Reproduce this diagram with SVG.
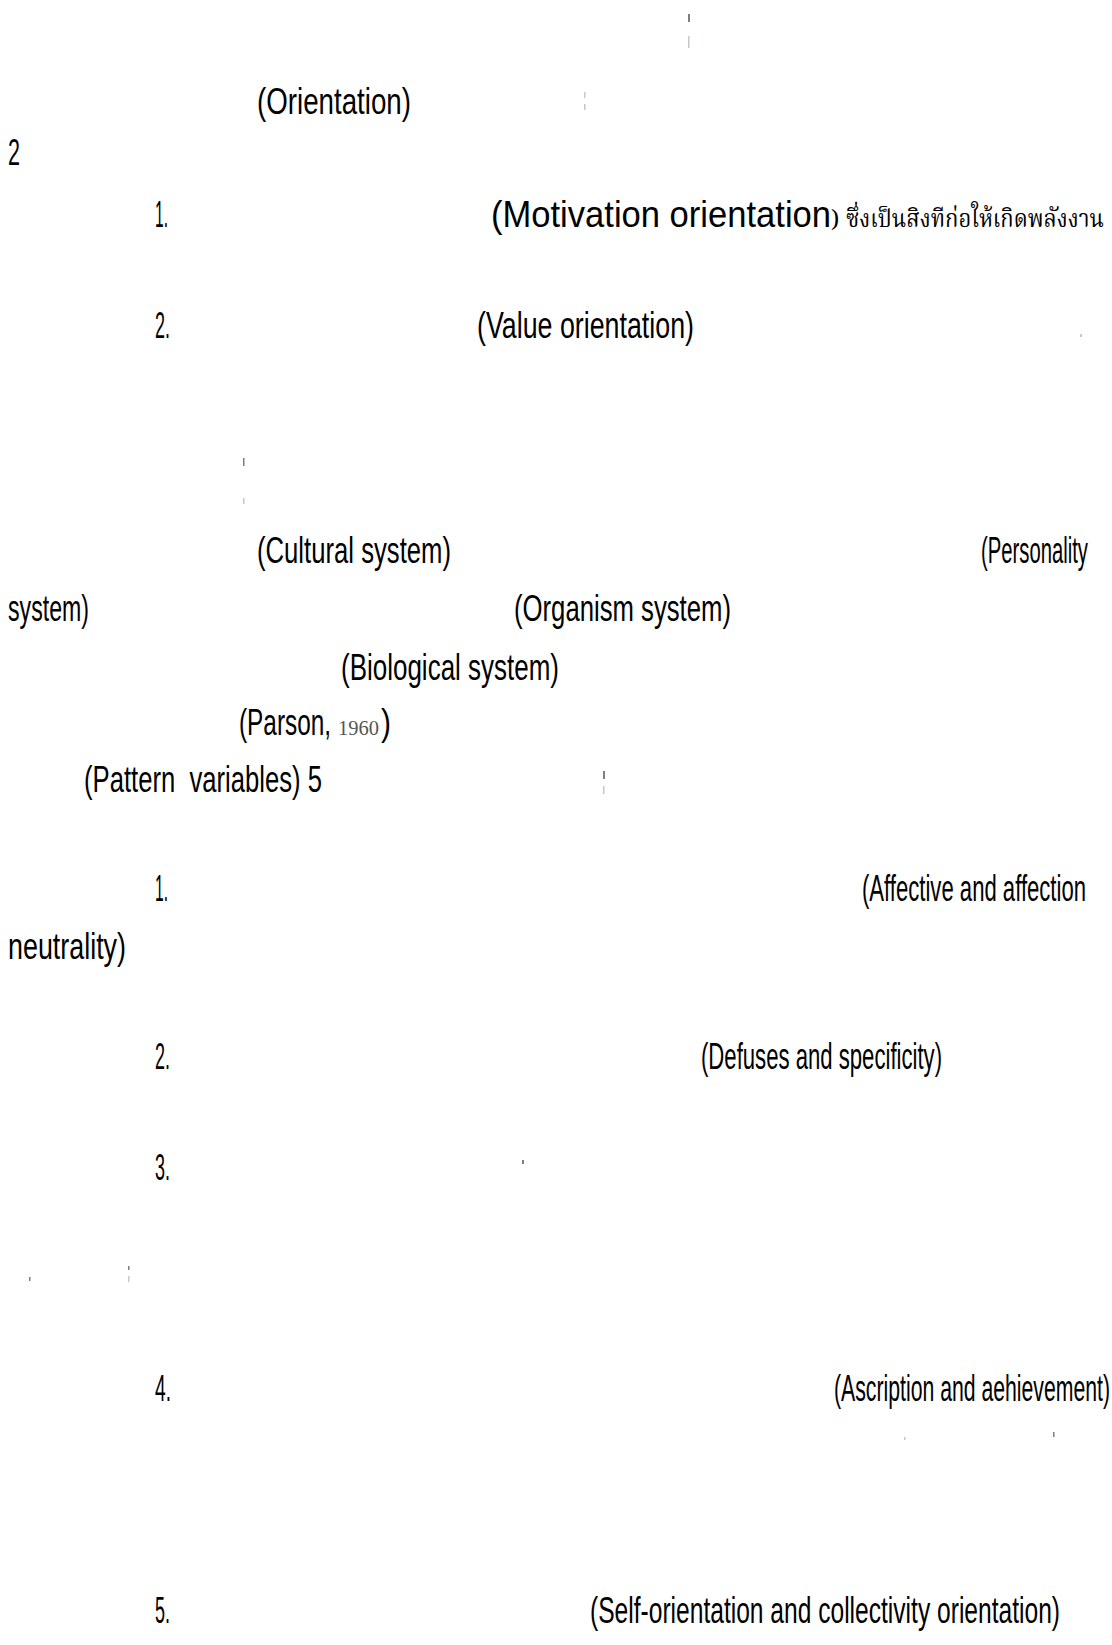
<svg xmlns="http://www.w3.org/2000/svg" width="1112" height="1645" viewBox="0 0 1112 1645">
  <style>
    .t { font-family: "Liberation Sans", Arial, sans-serif; font-size: 36px; fill: #000; white-space: pre; }
    .th { font-family: "Noto Serif Thai", "Noto Sans Thai", "Tahoma", "DejaVu Serif", serif; font-size: 24px; fill: #000; }
    .sr { font-family: "Liberation Serif", "Times New Roman", serif; font-size: 22px; fill: #555; }
    .mk { fill: #7a7f86; }
    .mkl { fill: #c4c8cc; }
  </style>
  <rect width="1112" height="1645" fill="#fff"/>

  <!-- stray print marks -->
  <g id="marks">
    <rect class="mk" x="688" y="14" width="2" height="8"/>
    <rect class="mkl" x="688" y="36" width="1.5" height="12"/>
    <rect class="mkl" x="584" y="92" width="1.5" height="6"/>
    <rect class="mkl" x="584" y="104" width="1.5" height="6"/>
    <rect class="mkl" x="1080" y="334" width="2" height="3"/>
    <rect class="mk" x="243" y="458" width="1.5" height="8"/>
    <rect class="mkl" x="243" y="498" width="1.5" height="6"/>
    <rect class="mk" x="603" y="771" width="2" height="8"/>
    <rect class="mkl" x="603" y="786" width="1.5" height="8"/>
    <rect class="mk" x="522" y="1160" width="2" height="4"/>
    <rect class="mk" x="29" y="1277" width="1.5" height="4"/>
    <rect class="mk" x="128" y="1266" width="1.5" height="4"/>
    <rect class="mkl" x="128" y="1276" width="1.5" height="6"/>
    <rect class="mk" x="1053" y="1432" width="1.5" height="5"/>
    <rect class="mkl" x="904" y="1437" width="1.5" height="3"/>
  </g>

  <g id="intro">
    <text class="t" x="257" y="114" textLength="154" lengthAdjust="spacingAndGlyphs">(Orientation)</text>
    <text class="t" x="8" y="165" textLength="12" lengthAdjust="spacingAndGlyphs">2</text>
  </g>

  <g id="orientation-1">
    <text class="t" x="155" y="227" textLength="13" lengthAdjust="spacingAndGlyphs">1.</text>
    <text class="t" x="491" y="227" textLength="340" lengthAdjust="spacingAndGlyphs">(Motivation orientation</text>
    <text class="th" x="831" y="227">)</text>
    <text class="th" x="846" y="227" textLength="258" lengthAdjust="spacingAndGlyphs">ซึ่งเป็นสิงทีก่อให้เกิดพลังงาน</text>
  </g>

  <g id="orientation-2">
    <text class="t" x="155" y="338" textLength="15" lengthAdjust="spacingAndGlyphs">2.</text>
    <text class="t" x="477" y="338" textLength="217" lengthAdjust="spacingAndGlyphs">(Value orientation)</text>
  </g>

  <g id="systems">
    <text class="t" x="257" y="563" textLength="194" lengthAdjust="spacingAndGlyphs">(Cultural system)</text>
    <text class="t" x="981" y="563" textLength="107" lengthAdjust="spacingAndGlyphs">(Personality</text>
    <text class="t" x="8" y="621" textLength="81" lengthAdjust="spacingAndGlyphs">system)</text>
    <text class="t" x="514" y="621" textLength="217" lengthAdjust="spacingAndGlyphs">(Organism system)</text>
    <text class="t" x="341" y="680" textLength="218" lengthAdjust="spacingAndGlyphs">(Biological system)</text>
  </g>

  <g id="citation">
    <text class="t" x="239" y="735" textLength="92" lengthAdjust="spacingAndGlyphs">(Parson,</text>
    <text class="sr" x="338" y="735" textLength="41" lengthAdjust="spacingAndGlyphs">1960</text>
    <text class="t" x="381" y="735" textLength="10" lengthAdjust="spacingAndGlyphs">)</text>
    <text class="t" x="84" y="792" textLength="238" lengthAdjust="spacingAndGlyphs">(Pattern  variables) 5</text>
  </g>

  <g id="pattern-1">
    <text class="t" x="155" y="901" textLength="13" lengthAdjust="spacingAndGlyphs">1.</text>
    <text class="t" x="862" y="901" textLength="224" lengthAdjust="spacingAndGlyphs">(Affective and affection</text>
    <text class="t" x="8" y="959" textLength="118" lengthAdjust="spacingAndGlyphs">neutrality)</text>
  </g>

  <g id="pattern-2">
    <text class="t" x="155" y="1069" textLength="15" lengthAdjust="spacingAndGlyphs">2.</text>
    <text class="t" x="701" y="1069" textLength="241" lengthAdjust="spacingAndGlyphs">(Defuses and specificity)</text>
  </g>

  <g id="pattern-3">
    <text class="t" x="155" y="1180" textLength="15" lengthAdjust="spacingAndGlyphs">3.</text>
  </g>

  <g id="pattern-4">
    <text class="t" x="155" y="1401" textLength="16" lengthAdjust="spacingAndGlyphs">4.</text>
    <text class="t" x="834" y="1401" textLength="276" lengthAdjust="spacingAndGlyphs">(Ascription and aehievement)</text>
  </g>

  <g id="pattern-5">
    <text class="t" x="155" y="1623" textLength="15" lengthAdjust="spacingAndGlyphs">5.</text>
    <text class="t" x="590" y="1623" textLength="470" lengthAdjust="spacingAndGlyphs">(Self-orientation and collectivity orientation)</text>
  </g>
</svg>
